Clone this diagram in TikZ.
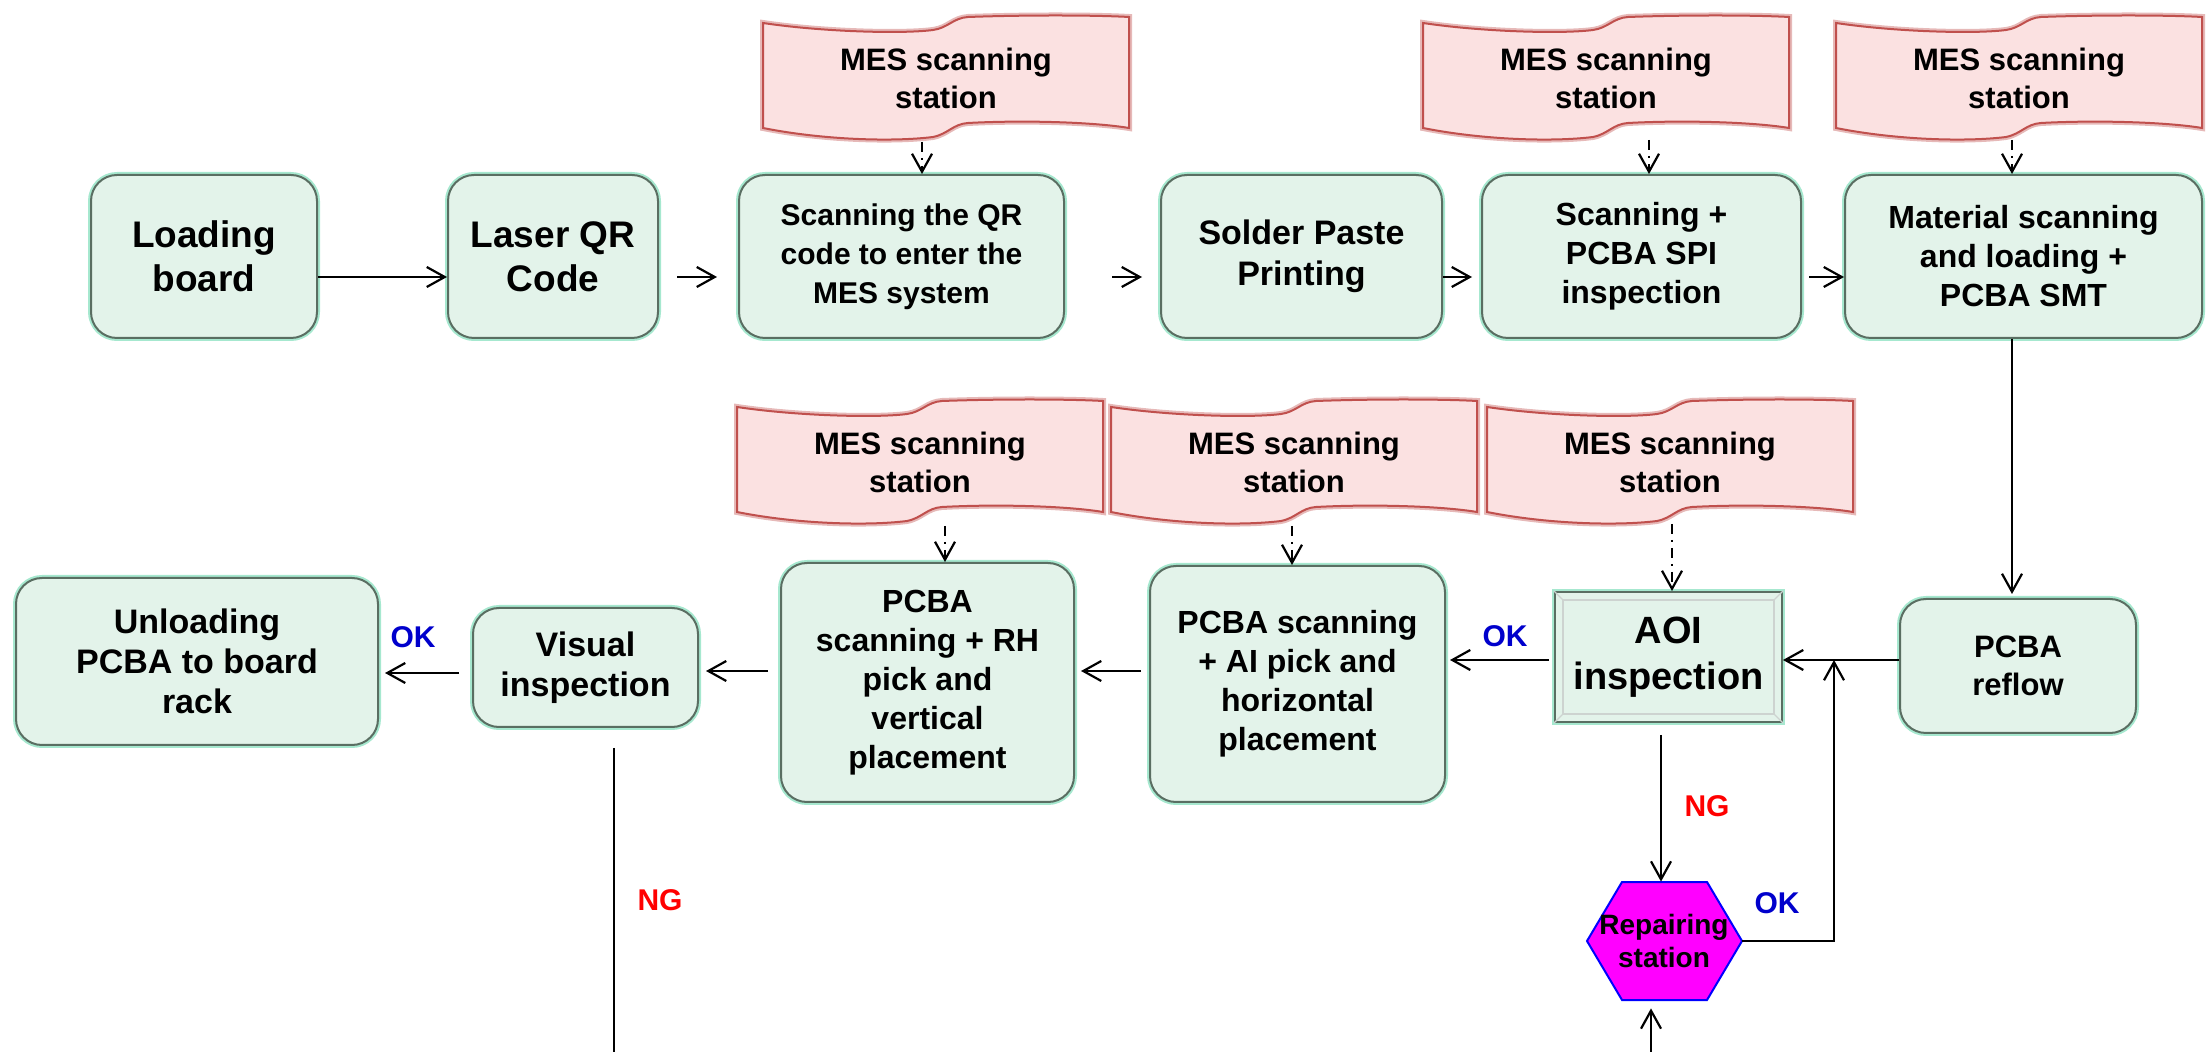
\documentclass[tikz,border=0pt]{standalone}
\usepackage{fontspec}
\setmainfont{Liberation Sans}
\usetikzlibrary{arrows.meta,calc}
\definecolor{boxfill}{HTML}{E3F3EA}
\definecolor{boxline}{HTML}{5A6E62}
\definecolor{boxglow}{HTML}{A6E8CF}
\definecolor{bannerfill}{HTML}{FBE1E1}
\definecolor{bannerline}{HTML}{C0504D}
\definecolor{okblue}{HTML}{0000CC}
\definecolor{ngred}{HTML}{FF0000}
\definecolor{hexfill}{HTML}{FF00FF}
\definecolor{hexline}{HTML}{0000FF}
\newcommand{\fntBig}{\fontsize{18.5pt}{22pt}\selectfont\bfseries}
\newcommand{\fntQR}{\fontsize{15pt}{19.5pt}\selectfont\bfseries}
\newcommand{\fntSolder}{\fontsize{17pt}{20.5pt}\selectfont\bfseries}
\newcommand{\fntMid}{\fontsize{16pt}{19.5pt}\selectfont\bfseries}
\newcommand{\fntMes}{\fontsize{15.5pt}{19pt}\selectfont\bfseries}
\newcommand{\fntAOI}{\fontsize{19pt}{23pt}\selectfont\bfseries}
\newcommand{\fntVis}{\fontsize{17pt}{20pt}\selectfont\bfseries}
\newcommand{\fntRefl}{\fontsize{15.5pt}{19pt}\selectfont\bfseries}
\newcommand{\fntRep}{\fontsize{14pt}{16.5pt}\selectfont\bfseries}
\newcommand{\fntLbl}{\fontsize{15pt}{18pt}\selectfont\bfseries}
\newcommand{\mesbanner}[2]{%
  \begin{scope}[shift={(#1,#2)}]
    \draw[banner] (0,7) .. controls (60,16) and (140,18) .. (170,14)
      .. controls (185,12) and (190,2) .. (205,1)
      .. controls (260,-1) and (330,-1) .. (366,1)
      -- (366,112) .. controls (330,106) and (260,104) .. (205,107)
      .. controls (190,108) and (185,118) .. (170,121)
      .. controls (130,126) and (60,124) .. (0,112) -- cycle;
  \end{scope}}
\begin{document}
\begin{tikzpicture}[x=0.5pt,y=-0.5pt,
  box/.style={draw=boxline, fill=boxfill, line width=1pt, rounded corners=13pt,
    align=center, inner sep=0pt,
    preaction={draw=boxglow, line width=3pt}},
  banner/.style={draw=bannerline, fill=bannerfill, line width=1pt,
    preaction={draw=bannerline!40, line width=3pt}},
  mestext/.style={align=center, inner sep=0pt, font=\fntMes},
  arr/.style={line width=1.1pt, -{Straight Barb[length=9pt,width=10pt]}},
  dasharr/.style={arr, dash pattern=on 5pt off 3pt on 1pt off 3pt},
  plain/.style={line width=1.1pt},
  bevel/.style={draw=boxline!30, line width=0.6pt},
  oklbl/.style={text=okblue, font=\fntLbl, inner sep=0pt},
  nglbl/.style={text=ngred, font=\fntLbl, inner sep=0pt}]
\useasboundingbox (0,0) rectangle (2206,1052);

% banners
\mesbanner{763}{16}
\mesbanner{1423}{16}
\mesbanner{1836}{16}
\mesbanner{737}{400}
\mesbanner{1111}{400}
\mesbanner{1487}{400}
\node[mestext] (mes1) at (946,78) {MES scanning\\station};
\node[mestext] (mes2) at (1606,78) {MES scanning\\station};
\node[mestext] (mes3) at (2019,78) {MES scanning\\station};
\node[mestext] (mes4) at (920,462) {MES scanning\\station};
\node[mestext] (mes5) at (1294,462) {MES scanning\\station};
\node[mestext] (mes6) at (1670,462) {MES scanning\\station};

% top row
\node[box, minimum width=113pt, minimum height=81.5pt, font=\fntBig] (load) at (204,256.5) {Loading\\board};
\node[box, minimum width=105pt, minimum height=81.5pt, font=\fntBig] (laser) at (553,256.5) {Laser QR\\Code};
\node[box, minimum width=162.5pt, minimum height=81.5pt, font=\fntQR] (scanqr) at (901.5,256.5) {Scanning the QR\\code to enter the\\MES system};
\node[box, minimum width=140.5pt, minimum height=81.5pt, font=\fntSolder] (solder) at (1301.5,256.5) {Solder Paste\\Printing};
\node[box, minimum width=159.5pt, minimum height=81.5pt, font=\fntMid] (spi) at (1641.5,256.5) {Scanning +\\PCBA SPI\\inspection};
\node[box, minimum width=178.5pt, minimum height=81.5pt, font=\fntMid] (material) at (2023.5,256.5) {Material scanning\\and loading +\\PCBA SMT};

% second row
\node[box, minimum width=181pt, minimum height=83.5pt, font=\fntVis] (unload) at (197,661.5) {Unloading\\PCBA to board\\rack};
\node[box, minimum width=112.5pt, minimum height=59.5pt, font=\fntVis] (visual) at (585.5,667.5) {Visual\\inspection};
\node[box, minimum width=146.5pt, minimum height=119.5pt, font=\fntMid] (rh) at (927.5,682.5) {PCBA\\scanning + RH\\pick and\\vertical\\placement};
\node[box, minimum width=147.5pt, minimum height=118pt, font=\fntMid] (ai) at (1297.5,684) {PCBA scanning\\+ AI pick and\\horizontal\\placement};
\node[box, rounded corners=0pt, minimum width=113.5pt, minimum height=65pt, font=\fntAOI] (aoi) at (1668.5,657) {AOI\\inspection};
\node[box, minimum width=118pt, minimum height=67pt, font=\fntRefl] (reflow) at (2018,666) {PCBA\\reflow};

% bevel of the AOI box
\draw[bevel] ($(aoi.north west)+(9,9)$) rectangle ($(aoi.south east)+(-9,-9)$);
\draw[bevel] (aoi.north west) -- ++(9,9);
\draw[bevel] (aoi.north east) -- ++(-9,9);
\draw[bevel] (aoi.south west) -- ++(9,-9);
\draw[bevel] (aoi.south east) -- ++(-9,-9);

% repairing station hexagon
\coordinate (repc) at (1664,941);
\draw[fill=hexfill, draw=hexline, line width=1pt] (1587,941) -- (1622,882) -- (1707,882) -- (1742,941) -- (1707,1000) -- (1622,1000) -- cycle;
\node[align=center, inner sep=0pt, minimum width=77.5pt, minimum height=59pt, font=\fntRep] (rep) at (repc) {Repairing\\station};

% helper coordinates
\coordinate (ay) at (0,277);
\coordinate (ry) at (0,660);
\coordinate (sy) at (0,671);
\coordinate (vy) at (0,673);
\coordinate (mx) at (2012,0);
\coordinate (rx) at (1661,0);
\coordinate (okx) at (1834,0);
\coordinate (rb) at (1651,1052);
\coordinate (vb) at (614,1052);

% top row connectors
\draw[arr] (load.east |- ay) -- (laser.west |- ay);
\draw[arr, shorten <=9pt, shorten >=10.5pt] (laser.east |- ay) -- (scanqr.west |- ay);
\draw[arr, shorten <=23.5pt, shorten >=9pt] (scanqr.east |- ay) -- (solder.west |- ay);
\draw[arr, shorten >=4.5pt] (solder.east |- ay) -- (spi.west |- ay);
\draw[arr, shorten <=3.5pt] (spi.east |- ay) -- (material.west |- ay);

% banner connectors
\coordinate (d1) at (922,142);
\coordinate (d2) at (1649,140);
\coordinate (d3) at (2012,140);
\coordinate (d4) at (945,526);
\coordinate (d5) at (1292,526);
\coordinate (d6) at (1672,524);
\draw[dasharr] (d1) -- (d1 |- scanqr.north);
\draw[dasharr] (d2) -- (d2 |- spi.north);
\draw[dasharr] (d3) -- (d3 |- material.north);
\draw[dasharr] (d4) -- (d4 |- rh.north);
\draw[dasharr] (d5) -- (d5 |- ai.north);
\draw[dasharr] (d6) -- (d6 |- aoi.north);

% flow connectors
\draw[arr, shorten >=2pt] (material.south -| mx) -- (reflow.north -| mx);
\draw[arr] (reflow.west |- ry) -- (aoi.east |- ry);
\draw[arr, shorten <=2.5pt, shorten >=2pt] (aoi.west |- ry) -- (ai.east |- ry);
\draw[arr, shorten <=4pt, shorten >=3pt] (ai.west |- sy) -- (rh.east |- sy);
\draw[arr, shorten <=6pt, shorten >=3.5pt] (rh.west |- sy) -- (visual.east |- sy);
\draw[arr, shorten <=6.5pt, shorten >=3pt] (visual.west |- vy) -- (unload.east |- vy);
\draw[arr, shorten <=6pt] (aoi.south -| rx) -- (rep.north -| rx);
\draw[arr] (rep.east) -| (okx |- ry);
\draw[arr, shorten >=4pt] (rb) -- (rb |- rep.south);
\draw[plain, shorten <=10pt] (visual.south -| vb) -- (vb);

% labels
\node[oklbl] (ok1) at (413,637) {OK};
\node[oklbl] (ok2) at (1505,636) {OK};
\node[oklbl] (ok3) at (1777,903) {OK};
\node[nglbl] (ng1) at (1707,806) {NG};
\node[nglbl] (ng2) at (660,900) {NG};
\end{tikzpicture}
\end{document}
